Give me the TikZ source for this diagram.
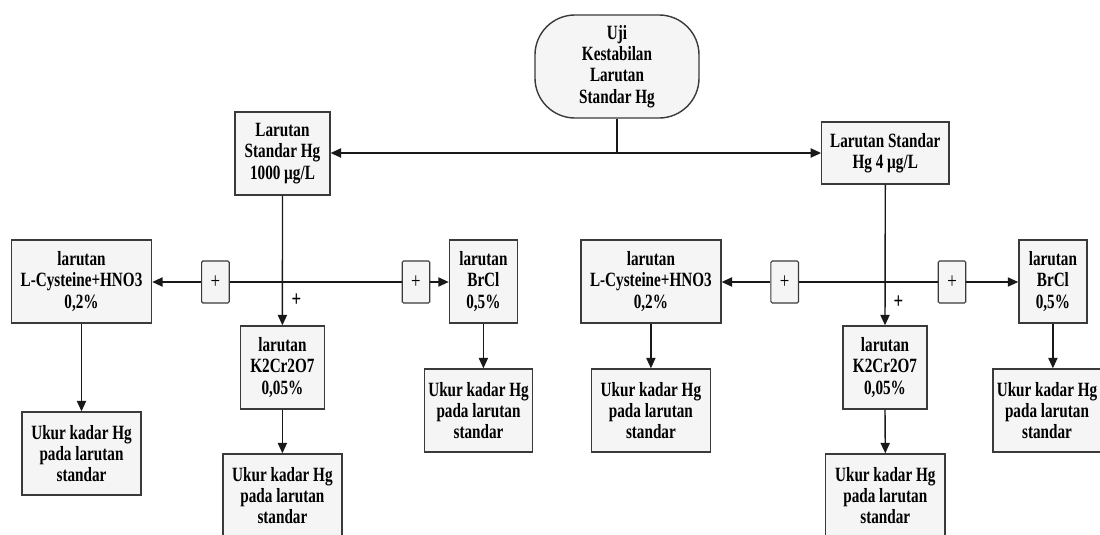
\documentclass[tikz,border=0pt]{standalone}
\usepackage{fontspec}
\setmainfont{Liberation Serif}[FakeStretch=0.75]
\usetikzlibrary{arrows.meta}
\definecolor{boxfill}{HTML}{F5F5F5}
\definecolor{boxline}{HTML}{3A3A3A}
\tikzset{
  box/.style={draw=boxline,line width=1pt,fill=boxfill,align=center,inner sep=0pt,
    font=\bfseries\fontsize{14.4}{15.2}\selectfont,minimum height=2.075cm},
  plusbox/.style={draw=boxline,line width=0.8pt,fill=boxfill,rounded corners=1pt,inner sep=0pt,
    minimum width=0.69cm,minimum height=1.05cm,font=\fontsize{16}{16}\selectfont},
  pluslabel/.style={inner sep=0pt,font=\bfseries\fontsize{16}{16}\selectfont},
  link/.style={draw=black!90,line width=1pt},
  arr/.style={link,-{Triangle[length=2.6mm,width=2.3mm]}},
}
\begin{document}
\begin{tikzpicture}[x=0.025cm,y=-0.025cm]
\useasboundingbox (0,0) rectangle (1100,534);
\def\ukurtext{Ukur kadar Hg\\pada larutan\\standar}

% start
\node[box,rounded corners=1cm,minimum width=4.1cm,minimum height=2.575cm] (uji) at (617,66.5) {Uji\\Kestabilan\\Larutan\\Standar Hg};

% standard solutions
\node[box,minimum width=2.37cm] (stdA) at (282.5,153.5) {Larutan\\Standar Hg\\1000 µg/L};
\node[box,minimum width=3.175cm,minimum height=1.55cm] (stdB) at (885.3,153) {Larutan Standar\\Hg 4 µg/L};

\coordinate (j0) at (uji.south |- stdB.west);
\draw[link] (uji.south) -- (j0);
\draw[arr] (j0) -- (stdA.east |- j0);
\draw[arr] (j0) -- (stdB.west);

% left branch
\node[box,minimum width=3.5cm] (cysA) at (81.5,281.5) {larutan\\L-Cysteine+HNO3\\0,2\%};
\node[plusbox] (pA1) at (215.4,282) {+};
\node[plusbox] (pA2) at (416,282) {+};
\node[box,minimum width=1.7cm] (brA) at (483.4,281.5) {larutan\\BrCl\\0,5\%};
\node[box,minimum width=2.1cm] (kA) at (282.4,367.5) {larutan\\K2Cr2O7\\0,05\%};
\node[pluslabel] (plA) at (296.4,300) {+};

\node[box,minimum width=2.975cm] (ukA1) at (81.5,453.5) {\ukurtext};
\node[box,minimum width=2.975cm] (ukA2) at (282.4,495.5) {\ukurtext};
\node[box,minimum width=2.7cm] (ukA3) at (478.5,410.5) {\ukurtext};

\coordinate (jA) at (stdA.south |- pA1.east);
\draw[arr] (stdA.south) -- (kA.north);
\draw[link] (jA) -- (pA1.east);
\draw[arr] (pA1.west) -- (cysA.east |- pA1.west);
\draw[link] (jA) -- (pA2.west);
\draw[arr] (pA2.east) -- (brA.west |- pA2.east);
\draw[arr] (cysA.south) -- (ukA1.north);
\draw[arr] (kA.south) -- (ukA2.north);
\draw[arr] (brA.south) -- (brA.south |- ukA3.north);

% right branch
\node[box,minimum width=3.5cm] (cysB) at (650.9,281.5) {larutan\\L-Cysteine+HNO3\\0,2\%};
\node[plusbox] (pB1) at (784.7,282) {+};
\node[plusbox] (pB2) at (952,282) {+};
\node[box,minimum width=1.7cm] (brB) at (1052.9,281.5) {larutan\\BrCl\\0,5\%};
\node[box,minimum width=2.1cm] (kB) at (885,367.5) {larutan\\K2Cr2O7\\0,05\%};
\node[pluslabel] (plB) at (898.3,302) {+};

\node[box,minimum width=2.975cm] (ukB1) at (650.9,410.5) {\ukurtext};
\node[box,minimum width=2.975cm] (ukB2) at (885.3,495.5) {\ukurtext};
\node[box,minimum width=2.7cm] (ukB3) at (1047,410.5) {\ukurtext};

\coordinate (jB) at (stdB.south |- pB1.east);
\draw[arr] (stdB.south) -- (kB.north);
\draw[link] (jB) -- (pB1.east);
\draw[arr] (pB1.west) -- (cysB.east |- pB1.west);
\draw[link] (jB) -- (pB2.west);
\draw[arr] (pB2.east) -- (brB.west |- pB2.east);
\draw[arr] (cysB.south) -- (ukB1.north);
\draw[arr] (kB.south) -- (ukB2.north);
\draw[arr] (brB.south) -- (brB.south |- ukB3.north);

\end{tikzpicture}
\end{document}
